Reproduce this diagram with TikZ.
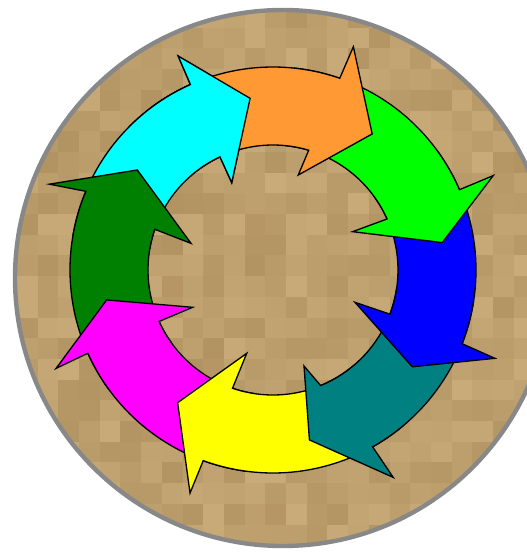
\documentclass[tikz,border=0pt]{standalone}
\usepackage{tikz}
\usepackage{xcolor}

\definecolor{laranja}{RGB}{255,153,51}
\definecolor{verdeclaro}{RGB}{0,255,0}
\definecolor{azul}{RGB}{0,0,255}
\definecolor{petroleo}{RGB}{0,128,128}
\definecolor{amarelo}{RGB}{255,255,0}
\definecolor{magenta}{RGB}{255,0,255}
\definecolor{verdeescuro}{RGB}{0,128,0}
\definecolor{ciano}{RGB}{0,255,255}
\definecolor{areiaclara}{RGB}{200,171,121}
\definecolor{areiaescura}{RGB}{178,147,98}
\definecolor{cinza}{RGB}{136,136,136}

\begin{document}
\begin{tikzpicture}[
    x=0.02cm, y=0.02cm,
    seta/.style={
        draw=black,
        line width=0.75pt,
        line join=miter
    },
    borda/.style={
        draw=cinza,
        line width=2.5pt
    }
]
\useasboundingbox (-273,-282) rectangle (254,270);

% FUNDO: DISCO COM TEXTURA
\begin{scope}
\clip (10,-8) circle[radius=268];
\pgfmathsetseed{4217}
\foreach \i in {0,...,25}{
    \foreach \j in {0,...,25}{
        \pgfmathrandominteger{\tom}{0}{100}
        \fill[areiaclara!\tom!areiaescura] (-256+\i*20.7,263-\j*20.7) rectangle ++(20.8,-20.8);
    }
}
\end{scope}
\draw[borda] (10,-8) circle[radius=268];

% ANEL DE SETAS (sentido horario)
\path[seta, fill=ciano] (170:203) arc[start angle=170, end angle=114, radius=203]
    -- (113.9:234) -- (97.6:173.2) -- (115.3:96.6) -- (115.1:125)
    arc[start angle=115.1, end angle=170, radius=125] -- cycle;
\path[seta, fill=verdeescuro] (-144:203) arc[start angle=-144, end angle=-202.8, radius=203]
    -- (-201:239.5) -- (-216.4:168.6) -- (-198:86.2) -- (-199:125)
    arc[start angle=-199, end angle=-144, radius=125] -- cycle;
\path[seta, fill=magenta] (-98:203) arc[start angle=-98, end angle=-155.8, radius=203]
    -- (-155.6:238.2) -- (-169.8:169) -- (-155.1:88.6) -- (-155.7:125)
    arc[start angle=-155.7, end angle=-98, radius=125] -- cycle;
\path[seta, fill=amarelo] (-50:203) arc[start angle=-50, end angle=-110.1, radius=203]
    -- (-110.4:238) -- (-125.7:163.4) -- (-107.5:87.4) -- (-108.9:125)
    arc[start angle=-108.9, end angle=-50, radius=125] -- cycle;
\path[seta, fill=petroleo] (-9:203) arc[start angle=-9, end angle=-60.6, radius=203]
    -- (-59.9:239.7) -- (-77.9:173.8) -- (-72.1:100.9) -- (-67.6:125)
    arc[start angle=-67.6, end angle=-9, radius=125] -- cycle;
\path[seta, fill=azul] (36:203) arc[start angle=36, end angle=-21.3, radius=203]
    -- (-21.7:238.9) -- (-34.8:169.6) -- (-21.5:88.1) -- (-20.7:125)
    arc[start angle=-20.7, end angle=36, radius=125] -- cycle;
\path[seta, fill=verdeclaro] (84:203) arc[start angle=84, end angle=23.3, radius=203]
    -- (23.2:239.6) -- (9.2:171.5) -- (25.7:88.4) -- (24.1:125)
    arc[start angle=24.1, end angle=84, radius=125] -- cycle;
\path[seta, fill=laranja] (127:203) arc[start angle=127, end angle=70.8, radius=203]
    -- (70.2:237.3) -- (53.9:168.4) -- (75.1:98.3) -- (73.4:125)
    arc[start angle=73.4, end angle=127, radius=125] -- cycle;

% ponta ciano por cima da cauda laranja
\begin{scope}
\clip (0,0) -- (80:300) arc[start angle=80, end angle=135, radius=300] -- cycle;
\path[seta, fill=ciano] (170:203) arc[start angle=170, end angle=114, radius=203]
    -- (113.9:234) -- (97.6:173.2) -- (115.3:96.6) -- (115.1:125)
    arc[start angle=115.1, end angle=170, radius=125] -- cycle;
\end{scope}

\end{tikzpicture}
\end{document}
